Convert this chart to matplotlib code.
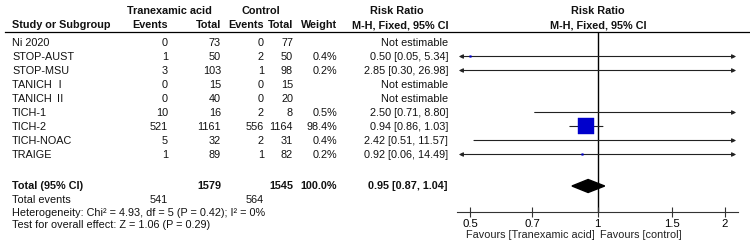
import numpy as np
import matplotlib
matplotlib.use("Agg")
import matplotlib.pyplot as plt

plt.rcParams['font.family'] = ['Liberation Sans', 'Noto Sans CJK SC', 'DejaVu Sans']

# ---- data ----
studies = ["Ni 2020", "STOP-AUST", "STOP-MSU", "TANICH Ⅰ", "TANICH Ⅱ",
           "TICH-1", "TICH-2", "TICH-NOAC", "TRAIGE"]
txa_events = [0, 1, 3, 0, 0, 10, 521, 5, 1]
txa_total = [73, 50, 103, 15, 40, 16, 1161, 32, 89]
ctl_events = [0, 2, 1, 0, 0, 2, 556, 2, 1]
ctl_total = [77, 50, 98, 15, 20, 8, 1164, 31, 82]
weights = [np.nan, 0.4, 0.2, np.nan, np.nan, 0.5, 98.4, 0.4, 0.2]
rr = [np.nan, 0.50, 2.85, np.nan, np.nan, 2.50, 0.94, 2.42, 0.92]
rr_lo = [np.nan, 0.05, 0.30, np.nan, np.nan, 0.71, 0.86, 0.51, 0.06]
rr_hi = [np.nan, 5.34, 26.98, np.nan, np.nan, 8.80, 1.03, 11.57, 14.49]

tot_txa_events, tot_txa = 541, 1579
tot_ctl_events, tot_ctl = 564, 1545
tot_rr, tot_lo, tot_hi = 0.95, 0.87, 1.04

ticks = [0.5, 0.7, 1, 1.5, 2]
tick_labels = ["0.5", "0.7", "1", "1.5", "2"]

# ---- layout (pixel coordinates) ----
W, H = 750, 250
fig = plt.figure(figsize=(7.5, 2.5), dpi=100)
bg = fig.add_axes([0, 0, 1, 1])
bg.set_xlim(0, W)
bg.set_ylim(H, 0)
bg.axis("off")

fs = 7.8
row0, step = 42.5, 14.0
rows_y = [row0 + i * step for i in range(len(studies))]
y_total = 186
y_events = 200
y_het = 212.5
y_test = 225
y_line = 31.5
y_axis = 212

col_x = [168, 221, 264, 293, 337, 448]

def t(x, y, s, ha="right", bold=False):
    bg.text(x, y, s, ha=ha, va="center", fontsize=fs,
            fontweight="bold" if bold else "normal", color="#111111")

# headers
t(169, 11.5, "Tranexamic acid", ha="center", bold=True)
t(261, 11.5, "Control", ha="center", bold=True)
t(397, 11.5, "Risk Ratio", ha="center", bold=True)
t(598, 11.5, "Risk Ratio", ha="center", bold=True)
t(12, 25, "Study or Subgroup", ha="left", bold=True)
for x, s in zip(col_x, ["Events", "Total", "Events", "Total", "Weight",
                        "M-H, Fixed, 95% CI"]):
    t(x, 25, s, bold=True)
t(598, 25, "M-H, Fixed, 95% CI", ha="center", bold=True)
bg.plot([5, W], [y_line, y_line], color="black", lw=0.9)

# study rows
for i, y in enumerate(rows_y):
    t(12, y, studies[i], ha="left")
    t(col_x[0], y, str(txa_events[i]))
    t(col_x[1], y, str(txa_total[i]))
    t(col_x[2], y, str(ctl_events[i]))
    t(col_x[3], y, str(ctl_total[i]))
    if np.isnan(rr[i]):
        t(col_x[5], y, "Not estimable")
    else:
        t(col_x[4], y, f"{weights[i]:.1f}%")
        t(col_x[5], y, f"{rr[i]:.2f} [{rr_lo[i]:.2f}, {rr_hi[i]:.2f}]")

# totals
t(12, y_total, "Total (95% CI)", ha="left", bold=True)
t(col_x[1], y_total, str(tot_txa), bold=True)
t(col_x[3], y_total, str(tot_ctl), bold=True)
t(col_x[4], y_total, "100.0%", bold=True)
t(col_x[5], y_total, f"{tot_rr:.2f} [{tot_lo:.2f}, {tot_hi:.2f}]", bold=True)
t(12, y_events, "Total events", ha="left")
t(col_x[0], y_events, str(tot_txa_events))
t(col_x[2], y_events, str(tot_ctl_events))
t(12, y_het, "Heterogeneity: Chi² = 4.93, df = 5 (P = 0.42); I² = 0%", ha="left")
t(12, y_test, "Test for overall effect: Z = 1.06 (P = 0.29)", ha="left")

# ---- forest plot ----
x0, x1 = 457, 738
ax = fig.add_axes([x0 / W, (H - y_axis) / H, (x1 - x0) / W, (y_axis - y_line) / H])
ax.set_xscale("log")
xmin, xmax = 0.465, 2.15
ax.set_xlim(xmin, xmax)
ax.set_ylim(y_axis, y_line)
ax.patch.set_alpha(0)
for s in ["top", "right", "left"]:
    ax.spines[s].set_visible(False)
ax.spines["bottom"].set_linewidth(0.8)
ax.spines["bottom"].set_color("#333333")
ax.set_yticks([])
ax.set_xticks(ticks)
ax.set_xticklabels(tick_labels)
ax.minorticks_off()
ax.tick_params(axis="x", direction="inout", length=7, width=0.8, color="#333333",
               labelsize=8.2, pad=1.5)

ax.axvline(1, color="black", lw=1.0, zorder=1)

for i, y in enumerate(rows_y):
    if np.isnan(rr[i]):
        continue
    lo = max(rr_lo[i], xmin * 1.01)
    hi = min(rr_hi[i], xmax / 1.01)
    left_arrow = rr_lo[i] < xmin
    right_arrow = rr_hi[i] > xmax
    style = {(True, True): "<|-|>", (True, False): "<|-",
             (False, True): "-|>", (False, False): "-"}[(left_arrow, right_arrow)]
    ax.annotate("", xy=(hi, y), xytext=(lo, y),
                arrowprops=dict(arrowstyle=style, color="#222222", lw=0.8,
                                mutation_scale=6, shrinkA=0, shrinkB=0),
                zorder=2)
    if xmin < rr[i] < xmax:
        ms = 12.2 * np.sqrt(weights[i] / 98.4)
        ax.plot(rr[i], y, marker="s", ms=max(ms, 1.2), color="#0000cc",
                mec="#0000cc", mew=0.3, zorder=3)

# diamond for pooled estimate
dh = 6.5
ax.fill([tot_lo, tot_rr, tot_hi, tot_rr], [y_total, y_total - dh, y_total, y_total + dh],
        color="black", zorder=3)

# favours labels
ax.text(0.985, -0.13, "Favours [Tranexamic acid]", transform=ax.get_xaxis_transform(),
        ha="right", va="center", fontsize=fs, color="#222222")
ax.text(1.015, -0.13, "Favours [control]", transform=ax.get_xaxis_transform(),
        ha="left", va="center", fontsize=fs, color="#222222")

fig.savefig("out.png", dpi=100)
